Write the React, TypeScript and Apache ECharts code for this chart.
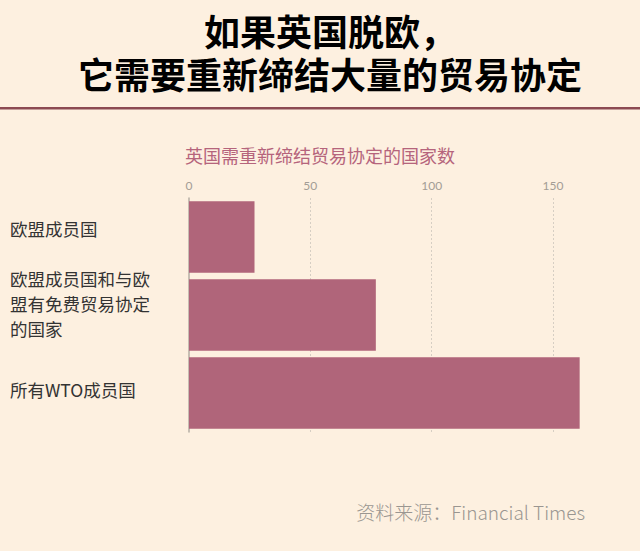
import React, { useEffect, useRef } from 'react';
import * as echarts from 'echarts';

// data
const categories = ['欧盟成员国', '欧盟成员国和与欧\n盟有免费贸易协定\n的国家', '所有WTO成员国'];
const values = [27, 77, 161];
const tickInterval = 50;
const axisMax = 170;

const titleLines = ['如果英国脱欧，', '它需要重新缔结大量的贸易协定'];
const subtitle = '英国需重新缔结贸易协定的国家数';
const source = '资料来源：Financial Times';

const BG = '#fdf0e0';
const BAR = '#b0657a';
const CJK = '"Noto Sans CJK SC", "Noto Sans", sans-serif';

// extra blank space under each label so it sits a bit above the bar centre
const labelLift = [18, 24, 8];

const App: React.FC = () => {
  const chartRef = useRef<HTMLDivElement>(null);

  useEffect(() => {
    document.body.style.margin = '0';
    const chart = echarts.init(chartRef.current!, null, { renderer: 'svg' });

    const rich: Record<string, any> = {};
    labelLift.forEach((h, i) => {
      rich['s' + i] = { height: h, lineHeight: h, fontSize: 1 };
    });

    const option = {
      animation: false,
      backgroundColor: BG,
      graphic: [
        ...titleLines.map((t, i) => ({
          type: 'text',
          x: 330,
          y: 30 + i * 43,
          style: {
            text: t,
            font: `bold 36px ${CJK}`,
            lineHeight: 38,
            fill: '#000',
            textAlign: 'center',
            textVerticalAlign: 'middle',
          },
        })),
        {
          type: 'rect',
          left: 0,
          top: 107,
          shape: { width: 640, height: 2.5 },
          style: { fill: '#8c4a52' },
        },
        {
          type: 'text',
          left: 185,
          top: 146,
          style: { text: subtitle, font: `18px ${CJK}`, fill: '#b5647c' },
        },
        {
          type: 'text',
          right: 55,
          top: 502,
          style: { text: source, font: `300 19px ${CJK}`, fill: '#9a9691' },
        },
      ],
      grid: { left: 189, top: 198, width: 412.5, height: 234 },
      xAxis: {
        type: 'value',
        position: 'top',
        min: 0,
        max: axisMax,
        interval: tickInterval,
        axisLine: { show: false },
        axisTick: { show: false },
        axisLabel: {
          margin: 7,
          color: '#a39d95',
          fontSize: 12,
          fontFamily: 'Lato, sans-serif',
          showMaxLabel: false,
        },
        splitLine: {
          show: true,
          showMinLine: false,
          showMaxLine: false,
          lineStyle: { color: '#d6cec3', type: [2, 2], width: 1 },
        },
      },
      yAxis: {
        type: 'category',
        inverse: true,
        data: categories,
        axisLine: { show: true, lineStyle: { color: '#b5aea5', width: 1.5 } },
        axisTick: { show: false },
        axisLabel: {
          align: 'left',
          margin: 179,
          color: '#333',
          fontSize: 17.5,
          lineHeight: 25,
          fontFamily: CJK,
          formatter: (v: string, i: number) => `${v}\n{s${i}| }`,
          rich,
        },
      },
      series: [
        {
          type: 'bar',
          data: values,
          barCategoryGap: '8.5%',
          itemStyle: { color: BAR },
        },
      ],
    };

    chart.setOption(option);
    return () => {
      chart.dispose();
    };
  }, []);

  return <div ref={chartRef} style={{ width: '640px', height: '551px' }} />;
};

export default App;
